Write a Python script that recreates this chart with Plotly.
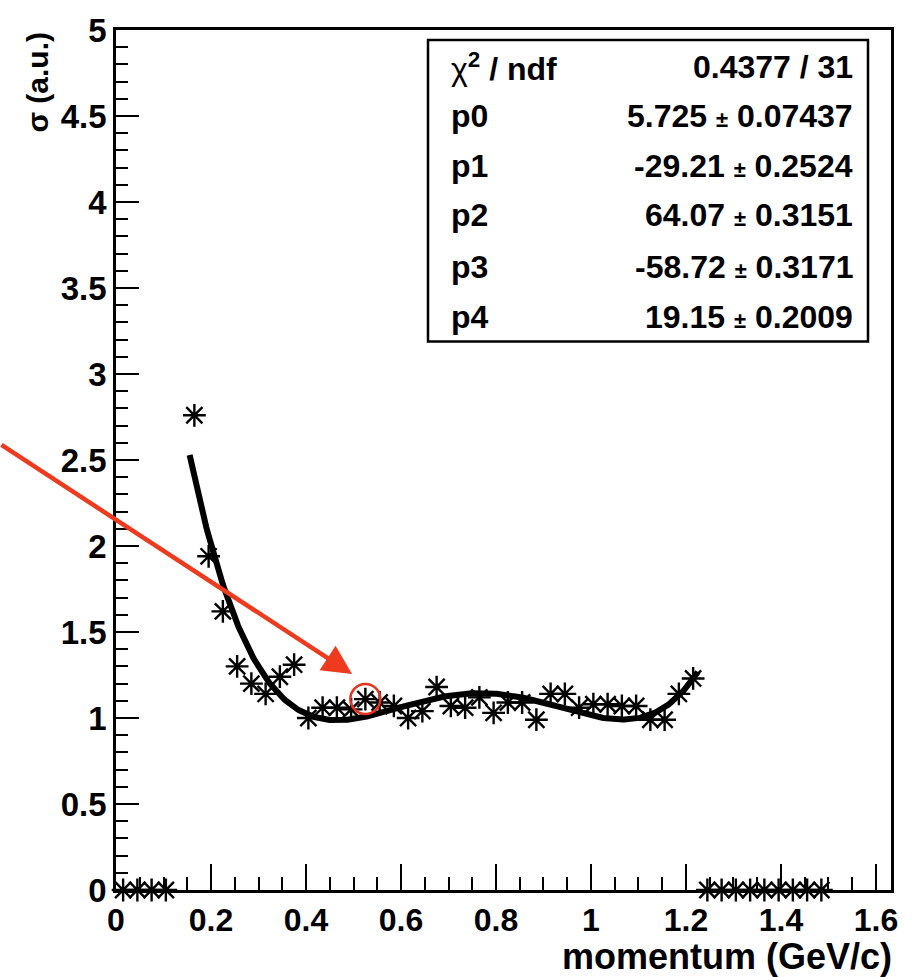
import numpy as np
import plotly.graph_objects as go

# ---- data ----
x_points = [0.015, 0.045, 0.075, 0.105,
            0.165, 0.195, 0.225, 0.255, 0.285, 0.315, 0.345, 0.375, 0.405, 0.435,
            0.465, 0.495, 0.525, 0.555, 0.585, 0.615, 0.645, 0.675, 0.705, 0.735,
            0.765, 0.795, 0.825, 0.855, 0.885, 0.915, 0.945, 0.975, 1.005, 1.035,
            1.065, 1.095, 1.125, 1.155, 1.185, 1.215,
            1.245, 1.275, 1.305, 1.335, 1.365, 1.395, 1.425, 1.455, 1.485]
y_points = [0.0, 0.0, 0.0, 0.0,
            2.76, 1.94, 1.62, 1.30, 1.20, 1.14, 1.24, 1.31, 1.00, 1.06,
            1.06, 1.05, 1.11, 1.09, 1.07, 1.00, 1.04, 1.18, 1.07, 1.06,
            1.12, 1.03, 1.09, 1.09, 0.99, 1.14, 1.14, 1.06, 1.08, 1.08,
            1.07, 1.07, 0.99, 0.99, 1.14, 1.23,
            0.0, 0.0, 0.0, 0.0, 0.0, 0.0, 0.0, 0.0, 0.0]

fit_params = [5.725, -29.21, 64.07, -58.72, 19.15]
fit_errors = ["0.07437", "0.2524", "0.3151", "0.3171", "0.2009"]
fit_values_txt = ["5.725", "-29.21", "64.07", "-58.72", "19.15"]
fit_range = [0.155, 1.225]
chi2_txt = "0.4377 / 31"

highlight = (0.525, 1.11)

x_title = "momentum (GeV/c)"
y_title = "σ (a.u.)"

x_tickvals = [0, 0.2, 0.4, 0.6, 0.8, 1.0, 1.2, 1.4, 1.6]
x_ticktext = ["0", "0.2", "0.4", "0.6", "0.8", "1", "1.2", "1.4", "1.6"]
y_tickvals = [0, 0.5, 1, 1.5, 2, 2.5, 3, 3.5, 4, 4.5, 5]
y_ticktext = ["0", "0.5", "1", "1.5", "2", "2.5", "3", "3.5", "4", "4.5", "5"]

# ---- figure ----
W, H = 914, 977
ML, MR, MT, MB = 116, 23, 23, 87
PW, PH = W - ML - MR, H - MT - MB

xf = np.linspace(fit_range[0], fit_range[1], 400)
yf = sum(p * xf ** i for i, p in enumerate(fit_params))

FONT = "Liberation Sans, Arial, Helvetica, sans-serif"

fig = go.Figure()
fig.add_trace(go.Scatter(x=xf, y=yf, mode="lines",
                         line=dict(color="black", width=6), hoverinfo="skip"))
fig.add_trace(go.Scatter(x=x_points, y=y_points, mode="markers", cliponaxis=False,
                         marker=dict(symbol="asterisk-open", size=19, color="black",
                                     line=dict(color="black", width=2.4))))

def px2paper_x(px):
    return (px - ML) / PW

def px2paper_y(py):
    return (H - MB - py) / PH

# stat box
fig.add_shape(type="rect", xref="paper", yref="paper",
              x0=px2paper_x(428), x1=px2paper_x(868),
              y0=px2paper_y(337), y1=px2paper_y(33),
              line=dict(color="black", width=2.5), fillcolor="white", layer="above")

labels = ["<span style='font-weight:normal'>χ</span><sup>2</sup> / ndf"] + \
         ["p%d" % i for i in range(len(fit_params))]
values = [chi2_txt] + ["%s <span style='font-size:22px'>±</span> %s" % (v, e)
                       for v, e in zip(fit_values_txt, fit_errors)]
rows_y = [60, 110, 160, 210, 262, 312]
for lab, val, ry in zip(labels, values, rows_y):
    fig.add_annotation(xref="paper", yref="paper", x=px2paper_x(449), y=px2paper_y(ry),
                       text=lab, showarrow=False, xanchor="left", yanchor="middle",
                       font=dict(family=FONT, size=32, color="black", weight="bold"))
    fig.add_annotation(xref="paper", yref="paper", x=px2paper_x(855), y=px2paper_y(ry),
                       text=val, showarrow=False, xanchor="right", yanchor="middle",
                       font=dict(family=FONT, size=32, color="black", weight="bold"))

# axis titles
fig.add_annotation(xref="paper", yref="paper", x=1.004, y=px2paper_y(957),
                   text=x_title, showarrow=False, xanchor="right", yanchor="middle",
                   font=dict(family=FONT, size=36, color="black", weight="bold"))
fig.add_annotation(xref="paper", yref="paper", x=px2paper_x(37), y=1.0,
                   text=y_title, showarrow=False, xanchor="center", yanchor="top",
                   textangle=-90,
                   font=dict(family=FONT, size=30, color="black", weight="bold"))

# red circle + arrow
fig.add_shape(type="circle", xref="x", yref="y", xsizemode="pixel", ysizemode="pixel",
              xanchor=highlight[0], yanchor=highlight[1], x0=-15, x1=15, y0=-15, y1=15,
              line=dict(color="#e8321e", width=2.5))
fig.add_annotation(x=0.497, y=1.256, xref="x", yref="y", text="", showarrow=True,
                   ax=-360, ay=-230, arrowcolor="#ee3a1e", arrowwidth=4.5,
                   arrowhead=2, arrowsize=1.3, standoff=0)

fig.update_layout(
    width=W, height=H, margin=dict(l=ML, r=MR, t=MT, b=MB),
    plot_bgcolor="white", paper_bgcolor="white", showlegend=False,
    font=dict(family=FONT, color="black"),
)
fig.update_xaxes(range=[0, 1.6316], showgrid=False, zeroline=False,
                 showline=True, linecolor="black", linewidth=2.5, mirror=True,
                 ticks="inside", ticklen=26, tickwidth=2.2, tickcolor="black",
                 tickvals=x_tickvals, ticktext=x_ticktext,
                 tickfont=dict(family=FONT, size=32, weight="bold"),
                 minor=dict(ticks="inside", ticklen=13, tickwidth=2, tickcolor="black",
                            dtick=0.05, tick0=0, showgrid=False))
fig.update_yaxes(range=[0, 5], showgrid=False, zeroline=False,
                 showline=True, linecolor="black", linewidth=2.5, mirror=True,
                 ticks="inside", ticklen=23, tickwidth=2.2, tickcolor="black",
                 tickvals=y_tickvals, ticktext=y_ticktext,
                 tickfont=dict(family=FONT, size=33, weight="bold"),
                 minor=dict(ticks="inside", ticklen=12, tickwidth=2, tickcolor="black",
                            dtick=0.1, tick0=0, showgrid=False))

fig.write_html("out.html")
